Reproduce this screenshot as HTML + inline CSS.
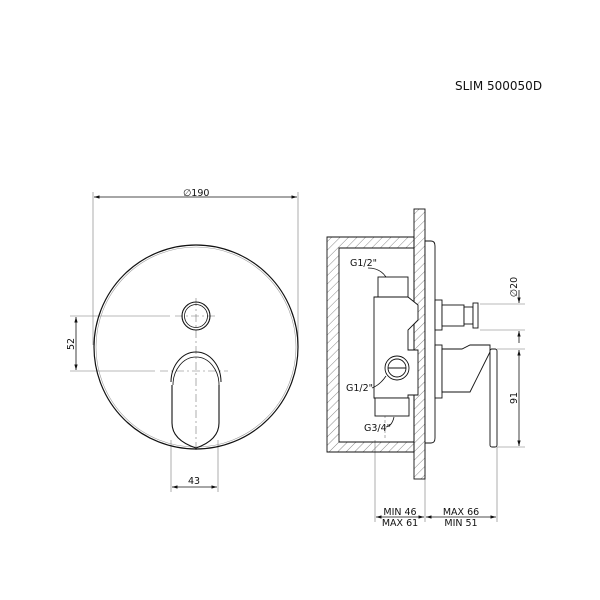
<!DOCTYPE html>
<html><head><meta charset="utf-8"><style>body{margin:0;background:#fff}svg{display:block}text{font-family:"DejaVu Sans","Liberation Sans",sans-serif;fill:#111}</style></head><body>
<svg width="600" height="600" viewBox="0 0 600 600" xmlns="http://www.w3.org/2000/svg">
<defs>
<pattern id="h" width="6" height="6" patternUnits="userSpaceOnUse" patternTransform="rotate(45)"><line x1="0" y1="0" x2="0" y2="6" stroke="#555" stroke-width="0.7"/></pattern>
<marker id="a" viewBox="0 0 10 10" refX="10" refY="5" markerWidth="7" markerHeight="7" orient="auto-start-reverse"><path d="M0,2L10,5L0,8z" fill="#111"/></marker>
</defs>
<text x="455" y="90" font-size="12">SLIM 500050D</text>
<g stroke="#777" stroke-width="0.6" fill="none">
<line x1="93" y1="192" x2="93" y2="345"/><line x1="298" y1="192" x2="298" y2="345"/>
<line x1="70" y1="316" x2="170" y2="316"/><line x1="70" y1="371" x2="155" y2="371"/>
<line x1="171" y1="440" x2="171" y2="492"/><line x1="218" y1="440" x2="218" y2="492"/>
<line x1="196" y1="298" x2="196" y2="450" stroke-dasharray="8,3,2,3"/>
<line x1="175" y1="316" x2="217" y2="316" stroke-dasharray="8,3,2,3"/>
<line x1="160" y1="371" x2="228" y2="371" stroke-dasharray="8,3,2,3"/>
<line x1="480" y1="304" x2="525" y2="304"/><line x1="480" y1="330" x2="525" y2="330"/>
<line x1="497" y1="349" x2="525" y2="349"/><line x1="497" y1="447" x2="525" y2="447"/>
<line x1="375" y1="440" x2="375" y2="522"/><line x1="425" y1="440" x2="425" y2="522"/><line x1="497" y1="447" x2="497" y2="522"/>
<line x1="385" y1="400" x2="385" y2="440" stroke-dasharray="3,2"/>
</g>
<g stroke="#111" stroke-width="0.8" fill="none">
<line x1="94" y1="197" x2="297" y2="197" marker-start="url(#a)" marker-end="url(#a)"/>
<line x1="76" y1="317" x2="76" y2="370" marker-start="url(#a)" marker-end="url(#a)"/>
<line x1="172" y1="487" x2="217" y2="487" marker-start="url(#a)" marker-end="url(#a)"/>
<line x1="519" y1="290" x2="519" y2="303" marker-end="url(#a)"/><line x1="519" y1="343" x2="519" y2="331" marker-end="url(#a)"/>
<line x1="519" y1="350" x2="519" y2="446" marker-start="url(#a)" marker-end="url(#a)"/>
<line x1="376" y1="517" x2="424" y2="517" marker-start="url(#a)" marker-end="url(#a)"/>
<line x1="426" y1="517" x2="496" y2="517" marker-start="url(#a)" marker-end="url(#a)"/>
</g>
<g font-size="9.5">
<text x="183" y="196">∅190</text>
<text x="74" y="344" transform="rotate(-90 74 344)" text-anchor="middle">52</text>
<text x="194" y="484" text-anchor="middle">43</text>
<text x="517" y="287" transform="rotate(-90 517 287)" text-anchor="middle">∅20</text>
<text x="517" y="398" transform="rotate(-90 517 398)" text-anchor="middle">91</text>
<text x="400" y="515" text-anchor="middle">MIN 46</text><text x="400" y="526" text-anchor="middle">MAX 61</text>
<text x="461" y="515" text-anchor="middle">MAX 66</text><text x="461" y="526" text-anchor="middle">MIN 51</text>
<text x="350" y="266">G1/2"</text><text x="346" y="391">G1/2"</text><text x="364" y="431">G3/4"</text>
</g>
<!-- front view -->
<g stroke="#111" fill="none">
<circle cx="196" cy="347" r="102" stroke-width="1.2"/><circle cx="196" cy="347" r="100" stroke="#999" stroke-width="0.6"/>
<circle cx="196" cy="316" r="14" stroke-width="1.1"/><circle cx="196" cy="316" r="11.5" stroke-width="0.8"/>
<path d="M171,382 A25,30 0 0 1 221,382" stroke-width="1"/>
<path d="M173,385 A23,28 0 0 1 219,385" stroke-width="0.8"/>
<path d="M172,385 L172,423 Q172,440 196,448 Q219,440 219,423 L219,385" stroke-width="1.1"/>
</g>
<!-- side view -->
<path d="M327,237 H414 V452 H327 Z M339,248 V442 H414 V248 Z" fill="url(#h)" fill-rule="evenodd" stroke="#111" stroke-width="0.9"/>
<rect x="414" y="209" width="11" height="270" fill="url(#h)" stroke="#111" stroke-width="0.9"/>
<g stroke="#111" stroke-width="0.9" fill="#fff">
<path d="M425,241 H431 Q435,241 435,246 V438 Q435,443 431,443 H425 Z"/>
<rect x="435" y="300" width="7" height="30"/><rect x="442" y="305" width="22" height="21"/><rect x="464" y="307" width="9" height="17"/><rect x="473" y="303" width="5" height="25"/>
<rect x="435" y="345" width="7" height="53"/><path d="M442,349 H462 L470,345 H490 V352 L470,392 H442 Z"/>
<rect x="490" y="349" width="7" height="98" rx="2"/>
<rect x="378" y="277" width="30" height="20"/>
<path d="M374,297 H408 L418,305 V320 L408,330 V350 H418 V395 H408 V398 H374 Z"/>
<rect x="375" y="398" width="34" height="18"/>
<circle cx="397" cy="368" r="12"/><circle cx="397" cy="368" r="9"/><line x1="388" y1="368" x2="406" y2="368"/>
</g>
<g stroke="#111" stroke-width="0.8" fill="none">
<path d="M368,268 Q380,268 386,277"/><path d="M372,388 Q380,385 386,376"/><path d="M386,427 Q392,426 394,417"/>
</g>
</svg>
</body></html>
